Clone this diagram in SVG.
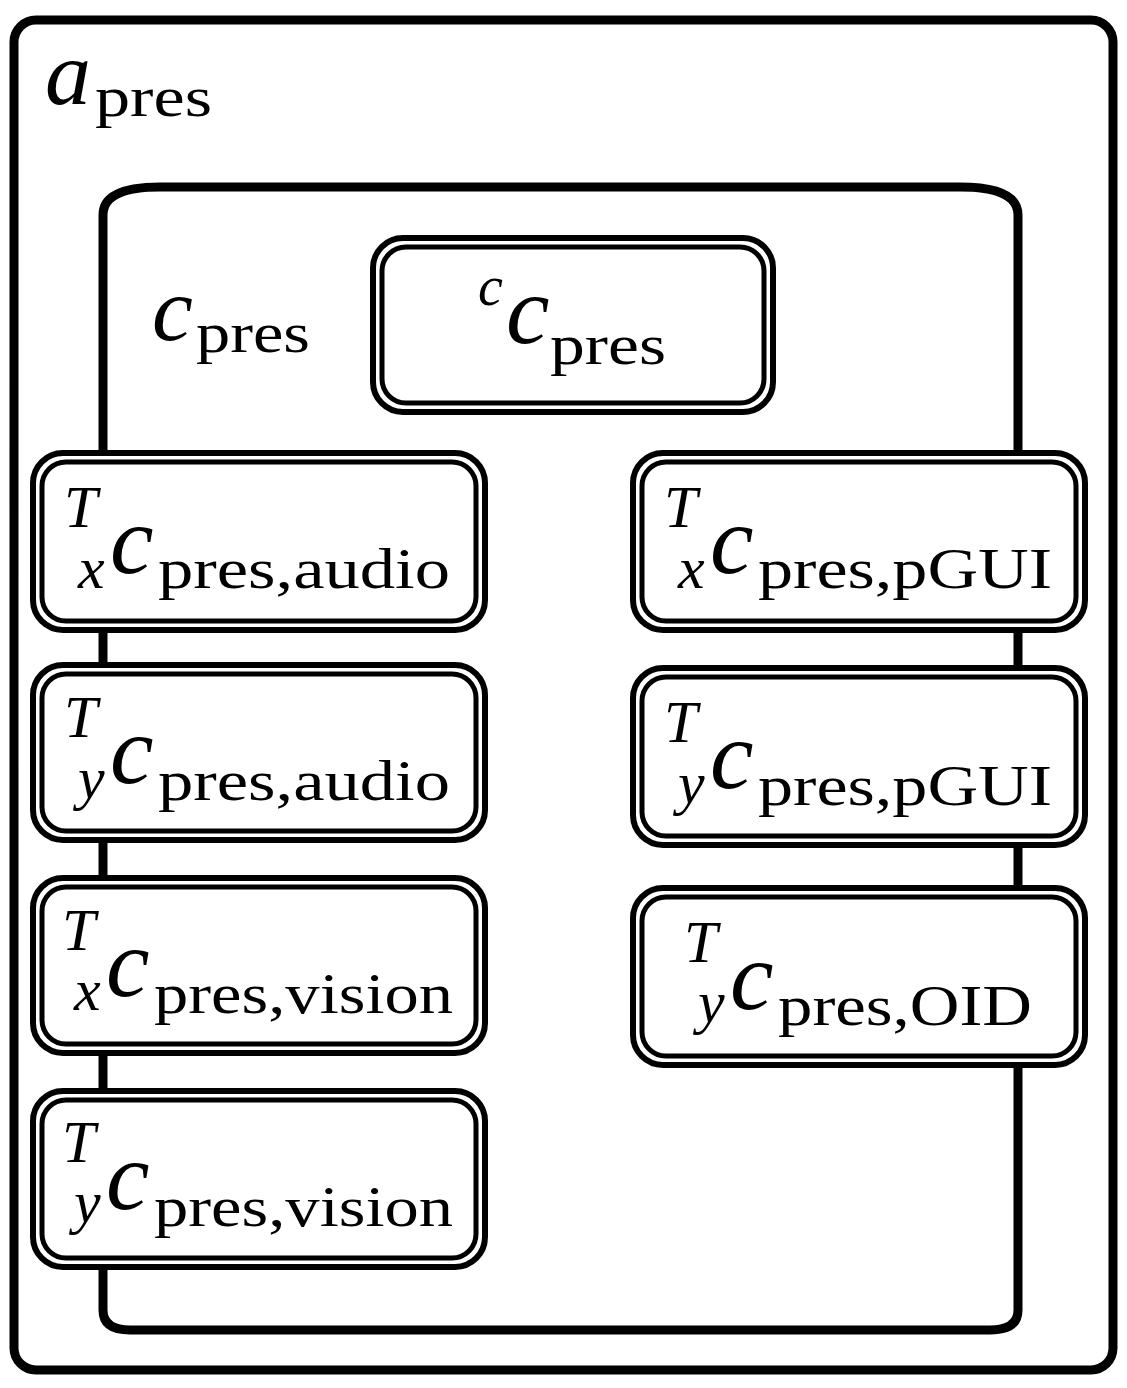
<svg xmlns="http://www.w3.org/2000/svg" width="1127" height="1388" viewBox="0 0 1127 1388">
<style>
.o{fill:white;stroke:black;stroke-width:6}
.i{fill:none;stroke:black;stroke-width:5}
.it{font-family:"Liberation Serif",serif;font-style:italic}
.rm{font-family:"Liberation Serif",serif}
.sub{font-family:"Liberation Serif",serif;font-size:58px}
</style>
<rect x="14" y="20" width="1099" height="1350" rx="22" fill="white" stroke="black" stroke-width="9"/>
<text x="45" y="104" class="it" font-size="92">a</text>
<text x="95" y="116" class="sub" textLength="117" lengthAdjust="spacingAndGlyphs">pres</text>
<g id="cpres">
<path d="M103,1310 L103,215 Q103,187 160,187 L960,187 Q1018,187 1018,215 L1018,1310 Q1018,1330 990,1330 L130,1330 Q103,1330 103,1310 Z" fill="white" stroke="black" stroke-width="9"/>
<text x="152" y="340" class="it" font-size="92">c</text>
<text x="196" y="352" class="sub" textLength="114" lengthAdjust="spacingAndGlyphs">pres</text>
</g>
<g id="ccpres">
<rect class="o" x="373" y="238" width="400" height="174" rx="30"/><rect class="i" x="382" y="247" width="382" height="156" rx="24"/>
<text x="478" y="305" class="it" font-size="56">c</text>
<text x="506" y="343" class="it" font-size="98">c</text>
<text x="550" y="364" class="sub" textLength="116" lengthAdjust="spacingAndGlyphs">pres</text>
</g>
<g id="txaudio">
<rect class="o" x="33" y="453" width="452" height="177" rx="30"/><rect class="i" x="42" y="462" width="434" height="159" rx="24"/>
<text x="64" y="527" class="it" font-size="60">T</text><text x="78" y="588" class="it" font-size="60">x</text>
<text x="110" y="573" class="it" font-size="98">c</text><text x="158" y="588" class="sub" textLength="292" lengthAdjust="spacingAndGlyphs">pres,audio</text>
</g>
<g id="tyaudio">
<rect class="o" x="33" y="665" width="452" height="175" rx="30"/><rect class="i" x="42" y="674" width="434" height="157" rx="24"/>
<text x="64" y="737" class="it" font-size="60">T</text><text x="78" y="798" class="it" font-size="60">y</text>
<text x="110" y="783" class="it" font-size="98">c</text><text x="158" y="800" class="sub" textLength="292" lengthAdjust="spacingAndGlyphs">pres,audio</text>
</g>
<g id="txvision">
<rect class="o" x="33" y="878" width="452" height="175" rx="30"/><rect class="i" x="42" y="887" width="434" height="157" rx="24"/>
<text x="62" y="950" class="it" font-size="60">T</text><text x="74" y="1010" class="it" font-size="60">x</text>
<text x="106" y="996" class="it" font-size="98">c</text><text x="154" y="1013" class="sub" textLength="299" lengthAdjust="spacingAndGlyphs">pres,vision</text>
</g>
<g id="tyvision">
<rect class="o" x="33" y="1091" width="452" height="176" rx="30"/><rect class="i" x="42" y="1100" width="434" height="158" rx="24"/>
<text x="62" y="1162" class="it" font-size="60">T</text><text x="74" y="1222" class="it" font-size="60">y</text>
<text x="106" y="1209" class="it" font-size="98">c</text><text x="154" y="1226" class="sub" textLength="299" lengthAdjust="spacingAndGlyphs">pres,vision</text>
</g>
<g id="txpgui">
<rect class="o" x="633" y="453" width="452" height="177" rx="30"/><rect class="i" x="642" y="462" width="434" height="159" rx="24"/>
<text x="664" y="527" class="it" font-size="60">T</text><text x="678" y="588" class="it" font-size="60">x</text>
<text x="710" y="573" class="it" font-size="98">c</text><text x="758" y="588" class="sub" textLength="294" lengthAdjust="spacingAndGlyphs">pres,pGUI</text>
</g>
<g id="typgui">
<rect class="o" x="633" y="668" width="452" height="177" rx="30"/><rect class="i" x="642" y="677" width="434" height="159" rx="24"/>
<text x="664" y="742" class="it" font-size="60">T</text><text x="678" y="803" class="it" font-size="60">y</text>
<text x="710" y="788" class="it" font-size="98">c</text><text x="758" y="805" class="sub" textLength="294" lengthAdjust="spacingAndGlyphs">pres,pGUI</text>
</g>
<g id="tyoid">
<rect class="o" x="633" y="888" width="452" height="177" rx="30"/><rect class="i" x="642" y="897" width="434" height="159" rx="24"/>
<text x="684" y="962" class="it" font-size="60">T</text><text x="698" y="1022" class="it" font-size="60">y</text>
<text x="730" y="1009" class="it" font-size="98">c</text><text x="778" y="1025" class="sub" textLength="254" lengthAdjust="spacingAndGlyphs">pres,OID</text>
</g>
<g id="connectors"/>
</svg>
